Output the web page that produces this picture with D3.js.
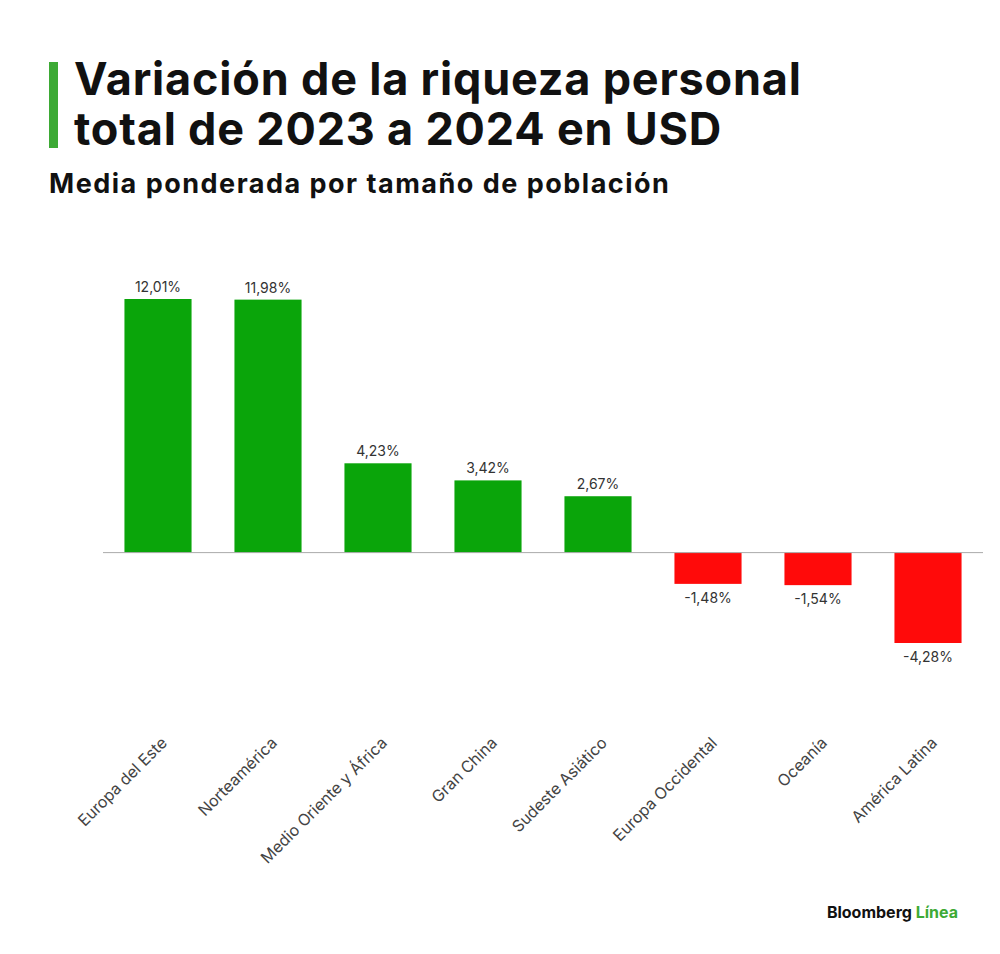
<!DOCTYPE html>
<html>
<head>
<meta charset="utf-8">
<script src="https://cdn.jsdelivr.net/npm/d3@7"></script>
<style>
  body { margin:0; background:#fff; font-family: Inter, "Noto Sans", sans-serif; }
</style>
</head>
<body>
<div id="chart"></div>
<script>
var categories = ["Europa del Este", "Norteamérica", "Medio Oriente y África", "Gran China",
                  "Sudeste Asiático", "Europa Occidental", "Oceanía", "América Latina"];
var values = [12.01, 11.98, 4.23, 3.42, 2.67, -1.48, -1.54, -4.28];
var valueLabels = ["12,01%", "11,98%", "4,23%", "3,42%", "2,67%", "-1,48%", "-1,54%", "-4,28%"];

var svg = d3.select("#chart").append("svg").attr("width", 1000).attr("height", 954);

// title block
svg.append("rect").attr("x", 49).attr("y", 62).attr("width", 9).attr("height", 86).attr("fill", "#3daa35");
svg.append("text").attr("x", 74).attr("y", 95).attr("font-size", 45).attr("font-weight", 700)
   .attr("fill", "#111").attr("letter-spacing", 0.8).text("Variación de la riqueza personal");
svg.append("text").attr("x", 74).attr("y", 145).attr("font-size", 45).attr("font-weight", 700)
   .attr("fill", "#111").attr("letter-spacing", 0.8).text("total de 2023 a 2024 en USD");
svg.append("text").attr("x", 49).attr("y", 193).attr("font-size", 27).attr("font-weight", 700)
   .attr("fill", "#111").attr("letter-spacing", 1.5).text("Media ponderada por tamaño de población");

var x = d3.scaleBand().domain(categories).range([103, 983]).paddingInner(0.39).paddingOuter(0.195);
var y = d3.scaleLinear().domain([-4.28, 12.01]).range([643, 299]);

svg.selectAll("rect.bar").data(values).enter().append("rect").attr("class", "bar")
   .attr("x", function(d, i){ return x(categories[i]); })
   .attr("y", function(d){ return y(Math.max(0, d)); })
   .attr("width", x.bandwidth())
   .attr("height", function(d){ return Math.abs(y(d) - y(0)); })
   .attr("fill", function(d){ return d >= 0 ? "#0aa50a" : "#ff0a0a"; });

svg.append("line").attr("x1", 103).attr("x2", 983).attr("y1", y(0)).attr("y2", y(0))
   .attr("stroke", "#aaa").attr("stroke-width", 1);

svg.selectAll("text.val").data(values).enter().append("text").attr("class", "val")
   .attr("x", function(d, i){ return x(categories[i]) + x.bandwidth() / 2; })
   .attr("y", function(d){ return d >= 0 ? y(d) - 7 : y(d) + 19; })
   .attr("text-anchor", "middle").attr("font-size", 14).attr("fill", "#333")
   .text(function(d, i){ return valueLabels[i]; });

svg.selectAll("text.cat").data(categories).enter().append("text").attr("class", "cat")
   .attr("transform", function(d){ return "translate(" + (x(d) + x.bandwidth() / 2 + 10) + ",744) rotate(-45)"; })
   .attr("text-anchor", "end").attr("font-size", 16).attr("fill", "#444")
   .text(function(d){ return d; });

var logo = svg.append("text").attr("x", 958).attr("y", 918).attr("text-anchor", "end")
   .attr("font-size", 16).attr("font-weight", 700);
logo.append("tspan").attr("fill", "#111").text("Bloomberg ");
logo.append("tspan").attr("fill", "#3daa35").text("Línea");
</script>
</body>
</html>
